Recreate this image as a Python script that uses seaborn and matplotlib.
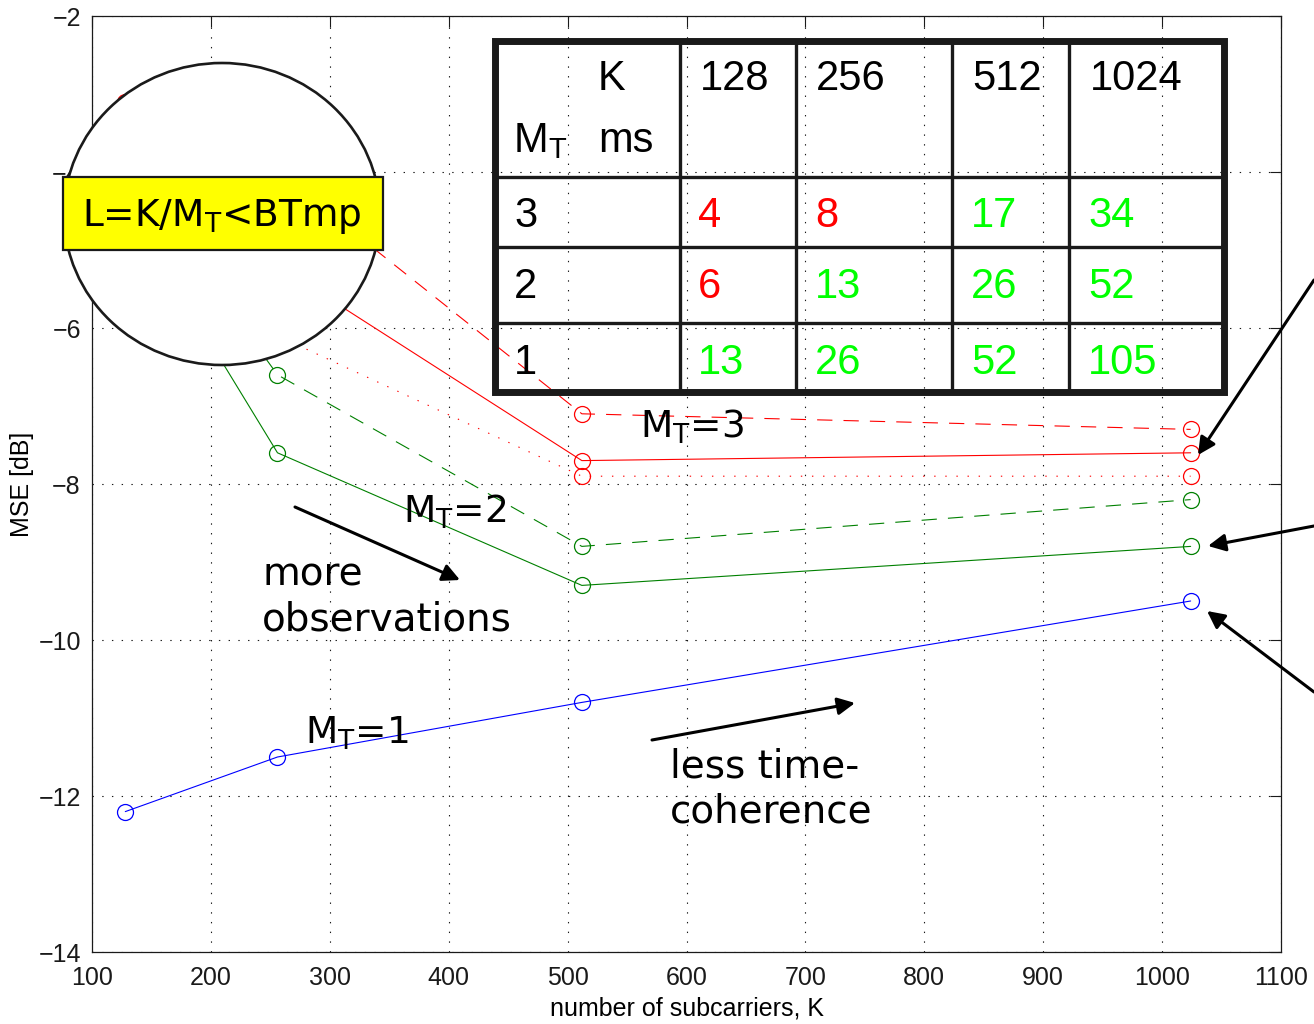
import matplotlib
matplotlib.use("Agg")
import matplotlib.pyplot as plt
from matplotlib.patches import Ellipse, Rectangle, FancyArrowPatch
from matplotlib.lines import Line2D
import seaborn as sns

# ---- data -------------------------------------------------------------
K = [128, 256, 512, 1024]
mse_mt1 = [-12.2, -11.5, -10.8, -9.5]
mse_mt2_solid = [-4.4, -7.6, -9.3, -8.8]
mse_mt2_dashed = [-3.9, -6.6, -8.8, -8.2]
mse_mt3_solid = [-3.5, -5.2, -7.7, -7.6]
mse_mt3_dashed = [-3.1, -4.0, -7.1, -7.3]
mse_mt3_dotted = [-4.0, -6.1, -7.9, -7.9]

xticks = list(range(100, 1101, 100))
yticks = list(range(-14, -1, 2))

# coherence-time table (ms)
table_k = ["128", "256", "512", "1024"]
table_mt = ["3", "2", "1"]
table_ms = [["4", "8", "17", "34"],
            ["6", "13", "26", "52"],
            ["13", "26", "52", "105"]]
table_ok = [[False, False, True, True],
            [False, True, True, True],
            [True, True, True, True]]

# ---- style ------------------------------------------------------------
sns.set_theme(style="white")
plt.rcParams["font.family"] = ["Liberation Sans", "DejaVu Sans"]
plt.rcParams["lines.scale_dashes"] = False
plt.rcParams["mathtext.fontset"] = "dejavusans"
for key in ("text.color", "axes.labelcolor", "xtick.color", "ytick.color",
            "axes.edgecolor"):
    plt.rcParams[key] = "black"

W, H = 1314, 1024
fig = plt.figure(figsize=(W / 100, H / 100), dpi=100)
ax = fig.add_axes([92 / W, 1 - 952 / H, (1281 - 92) / W, (952 - 16) / H])


def px(x, y):
    """pixel position (from top-left) -> figure fraction"""
    return x / W, 1 - y / H


RED, GREEN, BLUE = "#ff0000", "#008000", "#0000ff"
DASH = (0, (11, 8))
DOT = (0, (1, 7))

series = [
    (mse_mt3_dashed, RED, DASH),
    (mse_mt3_solid, RED, "-"),
    (mse_mt3_dotted, RED, DOT),
    (mse_mt2_dashed, GREEN, DASH),
    (mse_mt2_solid, GREEN, "-"),
    (mse_mt1, BLUE, "-"),
]
for vals, col, ls in series:
    sns.lineplot(x=K, y=vals, ax=ax, color=col, linestyle=ls, linewidth=0.8,
                 marker="o", markersize=11.5, markerfacecolor="none",
                 markeredgecolor=col, markeredgewidth=0.9, zorder=3)

ax.set_xlim(100, 1100)
ax.set_ylim(-14, -2)
ax.set_xticks(xticks)
ax.set_yticks(yticks)
ax.tick_params(axis="both", direction="in", length=8, width=0.8, top=True, right=True,
               labelsize=18, colors="k")
ax.tick_params(axis="x", pad=10)
ax.tick_params(axis="y", pad=8)
ax.grid(True, color="k", linestyle=(0, (1, 6)), linewidth=0.8)
for s in ax.spines.values():
    s.set_color("k")
    s.set_linewidth(0.9)
ax.set_xlabel("number of subcarriers, K", fontsize=18, labelpad=5)
ax.set_ylabel("MSE [dB]", fontsize=18, labelpad=3)

HAND = ["DejaVu Sans"]

# ---- table of coherence times -----------------------------------------
col_x = [495, 680, 796, 952, 1069, 1224]
row_y = [41, 177, 247, 323, 392]
for x in col_x[1:-1]:
    fig.add_artist(Line2D([px(x, 0)[0]] * 2, [px(0, row_y[0])[1], px(0, row_y[-1])[1]],
                          color="k", lw=2.4, zorder=20))
for y in row_y[1:-1]:
    fig.add_artist(Line2D([px(col_x[0], 0)[0], px(col_x[-1], 0)[0]], [px(0, y)[1]] * 2,
                          color="k", lw=2.4, zorder=20))
x0, y0 = px(col_x[0], row_y[-1])
x1, y1 = px(col_x[-1], row_y[0])
fig.add_artist(Rectangle((x0, y0), x1 - x0, y1 - y0, fill=False, ec="k",
                         lw=5, zorder=21))
TS = 30
fig.text(*px(598, 79), "K", fontsize=TS, ha="left", va="center", zorder=22)
fig.text(*px(513, 141), r"M$_\mathregular{T}$", fontsize=TS, ha="left", va="center", zorder=22)
fig.text(*px(598, 141), "ms", fontsize=TS, ha="left", va="center", zorder=22)
head_x = [700, 816, 972, 1090]
for hx, lab in zip(head_x, table_k):
    fig.text(*px(hx, 79), lab, fontsize=TS, ha="left", va="center", zorder=22)
val_x = [698, 815, 971, 1088]
val_y = [216, 287, 363]
for r, (mt, vy) in enumerate(zip(table_mt, val_y)):
    fig.text(*px(514, vy), mt, fontsize=TS, ha="left", va="center", zorder=22)
    for c, vx in enumerate(val_x):
        fig.text(*px(vx, vy), table_ms[r][c], fontsize=TS, ha="left", va="center",
                 color="#00ff00" if table_ok[r][c] else "#ff0000", zorder=22)

# ---- condition bubble -----------------------------------------------------
cx, cy = px(222, 214)
fig.add_artist(Ellipse((cx, cy), 316 / W, 302 / H, fc="white", ec="k", lw=1.9, zorder=30))
bx0, by0 = px(63, 250)
bx1, by1 = px(383, 177)
fig.add_artist(Rectangle((bx0, by0), bx1 - bx0, by1 - by0, fc="#ffff00", ec="k",
                         lw=1.6, zorder=31))
fig.text(*px(222, 216), r"L=K/M$_\mathregular{T}$<BTmp", fontsize=27, ha="center",
         va="center", family=HAND, zorder=32)

# ---- curve labels and trend notes ---------------------------------------------
LS = 27
fig.text(*px(640, 427), r"M$_\mathregular{T}$=3", fontsize=LS, ha="left", va="center", family=HAND, zorder=25)
fig.text(*px(403, 512), r"M$_\mathregular{T}$=2", fontsize=LS, ha="left", va="center", family=HAND, zorder=25)
fig.text(*px(305, 733), r"M$_\mathregular{T}$=1", fontsize=LS, ha="left", va="center", family=HAND, zorder=25)
fig.text(*px(262, 597), "more\nobservations", fontsize=LS + 1, ha="left", va="center",
         family=HAND, linespacing=1.25, zorder=25)
fig.text(*px(670, 789), "less time-\ncoherence", fontsize=LS + 1, ha="left", va="center",
         family=HAND, linespacing=1.25, zorder=25)

arrow = dict(arrowstyle="-|>", color="black", lw=2.2, mutation_scale=26,
             shrinkA=0, shrinkB=0)
for (tx, ty), (hx, hy) in [((295, 507), (460, 580)),
                           ((652, 740), (855, 703)),
                           ((1314, 280), (1198, 455)),
                           ((1314, 526), (1208, 546)),
                           ((1314, 692), (1207, 611))]:
    fig.add_artist(FancyArrowPatch(px(tx, ty), px(hx, hy), transform=fig.transFigure,
                                   zorder=26, **arrow))

fig.savefig("out.png", dpi=100)
